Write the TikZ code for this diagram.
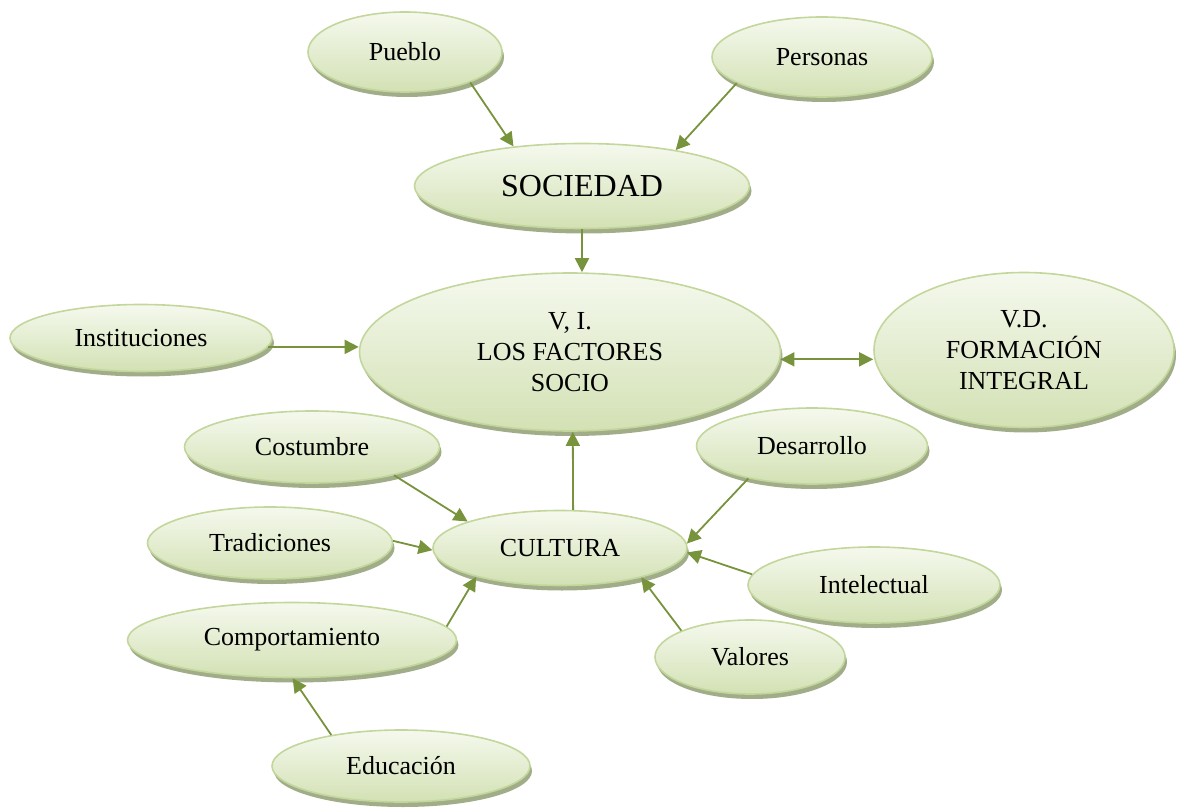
\documentclass[tikz,border=0pt]{standalone}
\usepackage{fontspec}
\setmainfont{Liberation Serif}
\usepackage{tikz}
\usetikzlibrary{shapes.geometric,shadows,arrows.meta}
\definecolor{bubbletop}{HTML}{F5F9EE}
\definecolor{bubblebottom}{HTML}{D3E1B4}
\definecolor{bubbleline}{HTML}{C3D69B}
\definecolor{bubbleshade}{HTML}{A0AD88}
\definecolor{arrowgreen}{HTML}{77933C}
\tikzstyle{bubble}=[ellipse,draw=bubbleline,line width=1.6pt,
                    top color=bubbletop,bottom color=bubblebottom,
                    inner sep=0pt,align=center,
                    font=\fontsize{26}{31}\selectfont,
                    drop shadow={shadow xshift=2pt,shadow yshift=-5pt,
                                 fill=bubbleshade,opacity=1}]
\tikzstyle{link}=[draw=arrowgreen,line width=1.8pt,
                  -{Triangle[length=14pt,width=14pt]}]

\begin{document}
\begin{tikzpicture}[x=1pt,y=-1pt]
    \useasboundingbox (0,0) rectangle (1178,810);
    % upper row
    \node (pueblo)   at (405,52)  [bubble,minimum width=194pt,minimum height=80pt]{Pueblo};
    \node (personas) at (822,57)  [bubble,minimum width=220pt,minimum height=80pt]{Personas};
    \node (sociedad) at (582,186) [bubble,minimum width=335pt,minimum height=85pt,
                                   font=\fontsize{32}{38}\selectfont]{SOCIEDAD};
    % middle row
    \node (factores)      at (570,352)  [bubble,minimum width=421pt,minimum height=158pt]{V, I.\\LOS FACTORES\\SOCIO};
    \node (formacion)     at (1024,350) [bubble,minimum width=300pt,minimum height=155pt]{V.D.\\FORMACIÓN\\INTEGRAL};
    \node (instituciones) at (141,338)  [bubble,minimum width=262pt,minimum height=67pt]{Instituciones};
    % around the culture node
    \node (cultura)        at (560,548) [bubble,minimum width=254pt,minimum height=75pt]{CULTURA};
    \node (costumbre)      at (312,447) [bubble,minimum width=255pt,minimum height=72pt]{Costumbre};
    \node (desarrollo)     at (812,446) [bubble,minimum width=231pt,minimum height=76pt]{Desarrollo};
    \node (tradiciones)    at (270,543) [bubble,minimum width=245pt,minimum height=72pt]{Tradiciones};
    \node (intelectual)    at (874,585) [bubble,minimum width=252pt,minimum height=76pt]{Intelectual};
    \node (comportamiento) at (292,640) [bubble,minimum width=329pt,minimum height=75pt]{Comportamiento};
    \node (valores)        at (750,657) [bubble,minimum width=190pt,minimum height=74pt]{Valores};
    \node (educacion)      at (401,766) [bubble,minimum width=258pt,minimum height=72pt]{Educación};
    % connectors
    \draw[link] (pueblo.-25) -- (sociedad.150);
    \draw[link] (personas.197) -- (sociedad.21);
    \draw[link] (sociedad.south) -- (sociedad.south |- factores.north);
    \draw[link] (instituciones.-4) -- (instituciones.-4 -| factores.west);
    \draw[link,{Triangle[length=14pt,width=14pt]}-{Triangle[length=14pt,width=14pt]}]
        (factores.-2) -- (factores.-2 -| formacion.west);
    \draw[link] (cultura.71) -- (factores.-88);
    \draw[link] (costumbre.-19) -- (cultura.164);
    \draw[link] (tradiciones.1) -- (cultura.181);
    \draw[link] (comportamiento.5) -- (cultura.199);
    \draw[link] (educacion.156) -- (comportamiento.-89);
    \draw[link] (desarrollo.207) -- (cultura.2);
    \draw[link] (intelectual.175) -- (cultura.-2);
    \draw[link] (valores.159) -- (cultura.-20);
\end{tikzpicture}
\end{document}
